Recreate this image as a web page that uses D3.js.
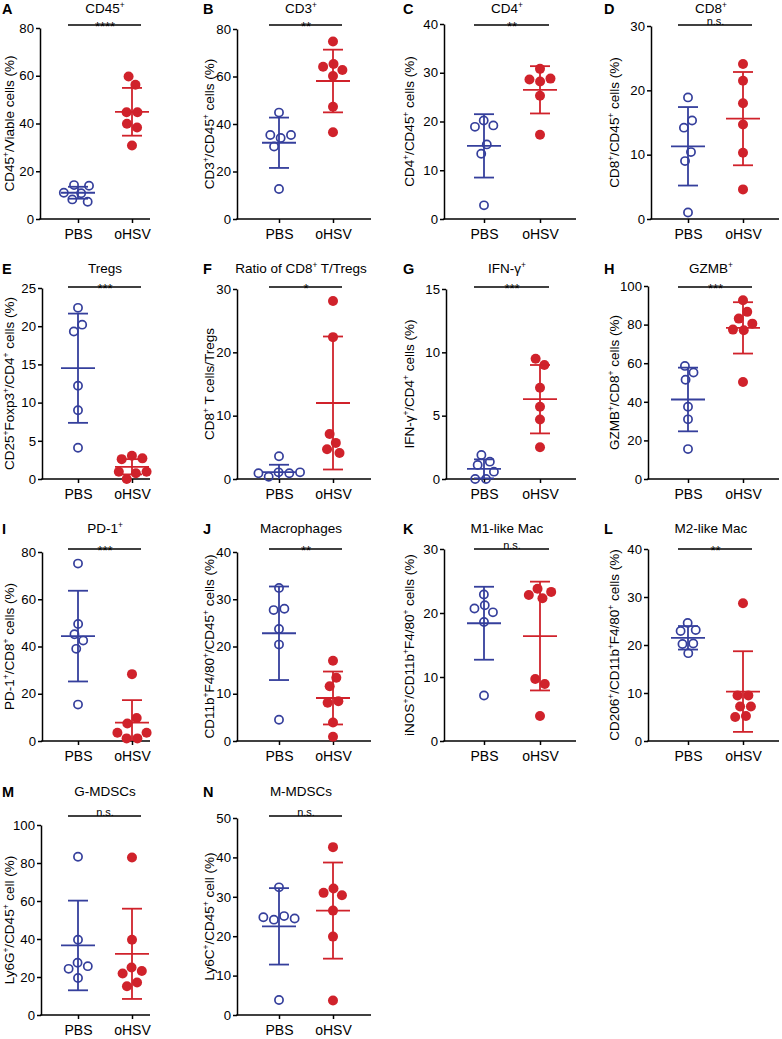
<!DOCTYPE html>
<html><head><meta charset="utf-8">
<script src="https://cdn.jsdelivr.net/npm/d3@7"></script>
<style>
body{margin:0;background:#fff;}
svg{display:block;font-family:"Liberation Sans",Arial,Helvetica,sans-serif;}
</style></head>
<body><svg id="c" width="782" height="1039"></svg>
<script>
// ---------------- DATA ----------------
const categories = ["PBS", "oHSV"];
const letters = ["A","B","C","D","E","F","G","H","I","J","K","L","M","N"];
const titles = ["CD45^+","CD3^+","CD4^+","CD8^+","Tregs","Ratio of CD8^+ T/Tregs","IFN-γ^+","GZMB^+",
  "PD-1^+","Macrophages","M1-like Mac","M2-like Mac","G-MDSCs","M-MDSCs"];
const yLabels = ["CD45^+/Viable cells (%)","CD3^+/CD45^+ cells (%)","CD4^+/CD45^+ cells (%)","CD8^+/CD45^+ cells (%)",
  "CD25^+Foxp3^+/CD4^+ cells (%)","CD8^+ T cells/Tregs","IFN-γ^+/CD4^+ cells (%)","GZMB^+/CD8^+ cells (%)",
  "PD-1^+/CD8^+ cells (%)","CD11b^+F4/80^+/CD45^+ cells (%)","iNOS^+/CD11b^+F4/80^+ cells (%)","CD206^+/CD11b^+F4/80^+ cells (%)",
  "Ly6G^+/CD45^+ cell (%)","Ly6C^+/CD45^+ cell (%)"];
const yMax  = [80,80,40,30, 25,30,15,100, 80,40,30,40, 100,50];
const yStep = [20,20,10,10, 5,10,5,20, 20,10,10,10, 20,10];
const sigLabels = ["****","**","**","n.s.","***","*","***","***","***","**","n.s.","**","n.s.","n.s."];

const pbsValues = [
  [14.2,13.9,10.8,11.0,7.2,8.2],
  [44.8,35.4,35.4,34.1,30.5,12.6],
  [20.2,18.9,19.2,15.3,13.4,2.8],
  [18.9,15.3,14.2,10.4,9.0,1.0],
  [22.4,20.2,19.3,12.2,9.0,4.1],
  [3.6,1.05,0.9,0.9,1.05,0.35],
  [1.9,1.37,1.1,0.58,0,0],
  [58.6,55.2,51.4,37.4,30.9,15.5],
  [75.1,49.5,45.2,42.5,39.0,15.4],
  [32.4,28.0,27.7,23.7,20.4,4.5],
  [22.9,20.7,21.2,20.1,18.6,7.1],
  [24.6,23.1,22.9,20.2,20.3,18.3],
  [83.3,39.6,25.7,27.5,24.3,19.5],
  [32.4,25.1,24.5,24.2,24.8,3.8]
];
const ohsvValues = [
  [59.7,56.2,44.7,44.7,39.9,38.3,30.8],
  [74.7,64.1,65.3,62.7,60.2,47.3,36.5],
  [30.8,28.8,28.6,28.2,25.3,17.3],
  [24.1,21.5,18.0,14.7,10.3,4.6],
  [2.7,2.6,3.05,0.96,0.75,0.96,0.0],
  [28.1,22.4,7.1,5.7,4.7,4.1],
  [9.5,9.0,7.2,5.7,4.7,2.5],
  [92.6,86.6,83.1,80.5,77.4,77.1,50.3],
  [28.3,9.7,7.4,3.5,3.5,1.1,1.1],
  [17.0,13.4,11.6,8.1,8.4,3.9,0.9],
  [23.3,23.8,22.3,22.8,9.7,8.9,3.9],
  [28.7,9.5,9.5,7.2,7.2,5.0,5.2],
  [82.9,39.6,23.2,25.0,21.8,15.1,17.1],
  [42.6,31.0,32.1,30.4,26.5,19.9,3.7]
];
const pbsMean = [11.0,32.1,15.0,11.3,14.5,1.1,0.8,41.2,44.4,22.8,18.4,21.5,36.6,22.5];
const pbsSD   = [2.5,10.6,6.5,6.1,7.15,1.15,0.75,16.5,19.2,9.9,5.7,2.45,23.6,9.7];
const ohsvMean = [44.9,58.1,26.5,15.6,1.6,12.0,6.3,78.3,7.8,9.1,16.4,10.3,32.2,26.5];
const ohsvSD   = [10.0,13.2,4.85,7.25,1.0,10.5,2.7,13.3,9.5,5.6,8.5,8.4,23.75,12.2];

// ---------------- LAYOUT ----------------
const colCats  = [[78,132],[279,333],[484,540],[688,743]];
const colRight = [150,371,576,779];
const colLetterX = [2,203,403,604];
const colTitleX = [105,301,507,711];
const colYLabelX = [9,209,409,614];
const rowY0 = [219,479,741,1015];
const rowTitleY = [12.5,273,533,796];
const rowLetterY = [13.5,274,534,797];
const rowSigY = [25,287,549,816];
const axisLeftPx = [40,237,444,651, 42,237,446,648, 42,237,444,648, 41,237];
const yTopPx = [28,29,24,26, 288,289,289,286, 552,552,549,549, 825,818];

const BLUE = "#353f9c", RED = "#d0222b";
const svg = d3.select("#c");

function rich(sel, str){
  str.split(/(\^\+)/).forEach(p=>{
    if(!p) return;
    if(p==="^+") sel.append("tspan").attr("baseline-shift","super").attr("font-size","0.62em").text("+");
    else sel.append("tspan").text(p);
  });
}

function beeswarm(vals, cx, y, r){
  const order = vals.map((v,i)=>i).sort((a,b)=>vals[b]-vals[a]);
  const nodes = vals.map(v=>({v, fy:y(v), y:y(v)}));
  order.forEach((idx,k)=>{ nodes[idx].x = cx + (k%2===0?-1:1)*(0.6+0.05*k); });
  const sim = d3.forceSimulation(nodes)
    .force("x", d3.forceX(cx).strength(0.08))
    .force("c", d3.forceCollide(r).strength(1).iterations(4))
    .stop();
  for(let i=0;i<300;i++) sim.tick();
  return nodes;
}

letters.forEach((L,i)=>{
  const col = i%4, row = Math.floor(i/4);
  const g = svg.append("g");
  const y0 = rowY0[row];
  const y = d3.scaleLinear().domain([0,yMax[i]]).range([y0, yTopPx[i]]);
  const x = d3.scalePoint().domain(categories).range(colCats[col]);
  const ax = axisLeftPx[i];

  // panel letter
  g.append("text").attr("x",colLetterX[col]).attr("y",rowLetterY[row]).attr("font-weight","bold")
    .attr("font-size",14.5).text(L);
  // title
  const t = g.append("text").attr("x",colTitleX[col]).attr("y",rowTitleY[row]).attr("text-anchor","middle")
    .attr("font-size",13.5);
  rich(t, titles[i]);

  // y axis
  const yAxis = d3.axisLeft(y).tickValues(d3.range(0,yMax[i]+yStep[i]/2,yStep[i])).tickSize(4).tickSizeOuter(0).tickPadding(2);
  const ga = g.append("g").attr("transform",`translate(${ax},0)`).call(yAxis);
  ga.selectAll("path,line").attr("stroke","#000").attr("stroke-width",1.5);
  ga.selectAll("text").attr("font-size",13.2).attr("fill","#000");
  ga.attr("font-family",null);

  // x axis
  g.append("line").attr("x1",ax-0.75).attr("x2",colRight[col]).attr("y1",y0).attr("y2",y0)
    .attr("stroke","#000").attr("stroke-width",1.5);
  const xAxis = d3.axisBottom(x).tickSize(4).tickPadding(6);
  const gx = g.append("g").attr("transform",`translate(0,${y0})`).call(xAxis);
  gx.select(".domain").remove();
  gx.selectAll("line").attr("stroke","#000").attr("stroke-width",1.5);
  gx.selectAll("text").attr("font-size",14).attr("fill","#000");
  gx.attr("font-family",null);

  // y label (rotated; baseline offset so glyph centre sits at colYLabelX)
  const yl = g.append("text").attr("transform",`translate(${colYLabelX[col]+4.8},${(y0+yTopPx[i])/2}) rotate(-90)`)
    .attr("text-anchor","middle").attr("font-size",13.5);
  rich(yl, yLabels[i]);

  // significance
  const sy = rowSigY[row];
  g.append("line").attr("x1",x("PBS")-10).attr("x2",x("oHSV")+9).attr("y1",sy).attr("y2",sy)
    .attr("stroke","#000").attr("stroke-width",1.5);
  const ns = sigLabels[i]==="n.s.";
  g.append("text").attr("x",(x("PBS")+x("oHSV"))/2).attr("y",ns? sy-0.2 : sy+6.3)
    .attr("text-anchor","middle").attr("font-size",ns?11:13).attr("fill","#000").text(sigLabels[i]);

  // points
  const groups = [
    {vals:pbsValues[i], mean:pbsMean[i], sd:pbsSD[i], c:BLUE, open:true, cat:"PBS"},
    {vals:ohsvValues[i], mean:ohsvMean[i], sd:ohsvSD[i], c:RED, open:false, cat:"oHSV"}
  ];
  groups.forEach(gr=>{
    const cx = x(gr.cat);
    const nodes = beeswarm(gr.vals, cx, y, 5.4);
    g.append("g").selectAll("circle").data(nodes).join("circle")
      .attr("cx",d=>d.x).attr("cy",d=>d.fy)
      .attr("r",gr.open?4.1:5)
      .attr("fill",gr.open?"none":gr.c)
      .attr("stroke",gr.c).attr("stroke-width",gr.open?1.7:0);
    const up = y(gr.mean+gr.sd), lo = y(Math.max(0,gr.mean-gr.sd)), m = y(gr.mean);
    const eb = g.append("g").attr("stroke",gr.c).attr("stroke-width",1.8);
    eb.append("line").attr("x1",cx).attr("x2",cx).attr("y1",up).attr("y2",lo);
    eb.append("line").attr("x1",cx-10).attr("x2",cx+10).attr("y1",up).attr("y2",up);
    if(gr.mean-gr.sd>0) eb.append("line").attr("x1",cx-10).attr("x2",cx+10).attr("y1",lo).attr("y2",lo);
    eb.append("line").attr("x1",cx-17).attr("x2",cx+17).attr("y1",m).attr("y2",m);
  });
});
</script></body></html>
